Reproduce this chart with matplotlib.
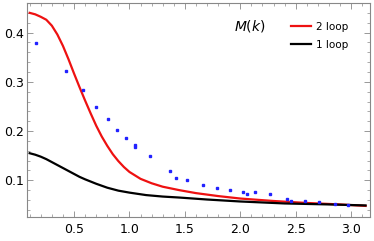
import matplotlib.pyplot as plt
from matplotlib.ticker import MultipleLocator

# curves
k_two = [0.10, 0.15, 0.20, 0.25, 0.30, 0.35, 0.40, 0.45, 0.50, 0.55, 0.60, 0.65, 0.70, 0.75, 0.80,
         0.85, 0.90, 0.95, 1.00, 1.10, 1.20, 1.30, 1.45, 1.60, 1.80, 2.00, 2.30, 2.60, 2.90, 3.13]
m_two = [0.440, 0.437, 0.432, 0.426, 0.414, 0.396, 0.373, 0.346, 0.317, 0.289, 0.262, 0.236, 0.211,
         0.189, 0.170, 0.153, 0.139, 0.127, 0.117, 0.103, 0.094, 0.087, 0.080, 0.074, 0.068, 0.063,
         0.058, 0.054, 0.051, 0.048]

k_one = [0.10, 0.15, 0.20, 0.25, 0.30, 0.35, 0.40, 0.45, 0.50, 0.55, 0.60, 0.70, 0.80, 0.90, 1.00,
         1.15, 1.30, 1.45, 1.70, 2.00, 2.40, 2.80, 3.13]
m_one = [0.155, 0.152, 0.148, 0.143, 0.137, 0.131, 0.125, 0.119, 0.113, 0.107, 0.102, 0.093, 0.085,
         0.079, 0.075, 0.070, 0.067, 0.065, 0.061, 0.057, 0.053, 0.051, 0.049]

# lattice points
k_pts = [0.16, 0.43, 0.58, 0.70, 0.81, 0.89, 0.97, 1.05, 1.05, 1.19, 1.37, 1.42, 1.52, 1.66, 1.79,
         1.91, 2.02, 2.06, 2.13, 2.27, 2.42, 2.46, 2.58, 2.71, 2.85, 2.97]
m_pts = [0.379, 0.322, 0.283, 0.249, 0.224, 0.202, 0.186, 0.172, 0.168, 0.149, 0.119, 0.105, 0.100,
         0.091, 0.084, 0.080, 0.077, 0.073, 0.076, 0.072, 0.062, 0.058, 0.057, 0.055, 0.052, 0.0505]
m_err = [0.002] * len(k_pts)

W, H = 374, 241
fig = plt.figure(figsize=(W / 100, H / 100), dpi=100)
ax = fig.add_axes([27 / W, 24 / H, 343 / W, 214 / H])

ax.plot(k_two, m_two, color="#ee1111", lw=1.6, label="2 loop")
ax.plot(k_one, m_one, color="black", lw=1.6, label="1 loop")
ax.errorbar(k_pts, m_pts, yerr=m_err, fmt="s", ms=1.6, color="#2222ff",
            ecolor="#2222ff", elinewidth=0.6, capsize=0)

ax.set_xlim(0.076, 3.17)
ax.set_ylim(0.0255, 0.46)
ax.xaxis.set_major_locator(MultipleLocator(0.5))
ax.xaxis.set_minor_locator(MultipleLocator(0.1))
ax.yaxis.set_major_locator(MultipleLocator(0.1))
ax.yaxis.set_minor_locator(MultipleLocator(0.02))
ax.tick_params(which="both", direction="in", top=True, right=True, color="#888888",
               labelsize=9)
ax.tick_params(which="major", length=4, width=0.6)
ax.tick_params(which="minor", length=2, width=0.5)
ax.tick_params(axis="y", pad=2)
ax.tick_params(axis="x", pad=4)
for s in ax.spines.values():
    s.set_color("#888888")
    s.set_linewidth(0.8)

fig.text(250 / W, 1 - 26 / H, "$M(k)$", fontsize=10, ha="center", va="center")
ax.legend(loc="upper left", bbox_to_anchor=(291 / W, 1 - 22 / H), bbox_transform=fig.transFigure,
          frameon=False, fontsize=7.5, borderpad=0, borderaxespad=0,
          handlelength=1.9, handletextpad=0.5, labelspacing=0.75)

fig.savefig("out.png", dpi=100)
